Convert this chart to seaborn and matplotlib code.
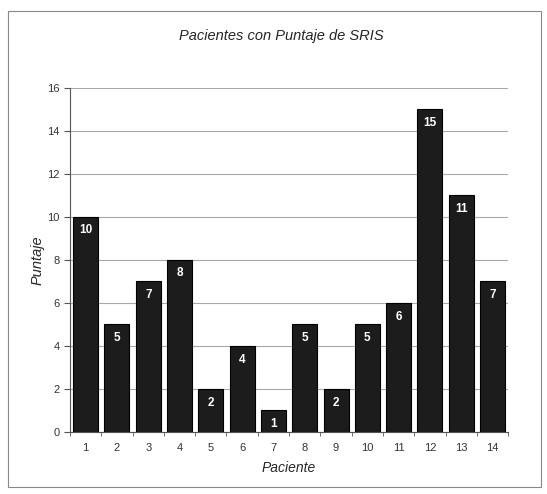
import matplotlib
matplotlib.use('Agg')
import matplotlib.pyplot as plt
import seaborn as sns
import numpy as np
from matplotlib.patches import Rectangle

pacientes = [str(i) for i in range(1, 15)]
puntaje = [10, 5, 7, 8, 2, 4, 1, 5, 2, 5, 6, 15, 11, 7]

sns.set_style('white')
plt.rcParams['font.family'] = ['Liberation Sans', 'DejaVu Sans']

fig = plt.figure(figsize=(5.47, 4.94), dpi=100)
ax = fig.add_axes([0.128, 0.1255, 0.801, 0.6965])

ax.yaxis.grid(True, color='#a8a8a8', linewidth=0.8)
ax.set_axisbelow(True)

sns.barplot(x=pacientes, y=puntaje, color='#1c1c1c', saturation=1,
            width=0.8, edgecolor='#000000', linewidth=0.8, ax=ax)

for i, v in enumerate(puntaje):
    ax.text(i, v - 0.35, str(v), ha='center', va='top', color='white',
            fontsize=8.5, fontweight='bold')

ax.set_ylim(0, 16)
ax.set_xlim(-0.5, 13.5)
ax.set_yticks(np.arange(0, 17, 2))
ax.set_xticks(np.arange(-0.5, 14, 1), minor=True)
ax.tick_params(axis='x', which='major', length=0, pad=8, labelsize=8, labelcolor='#333333')
ax.tick_params(axis='x', which='minor', length=3, direction='out', color='#555555', bottom=True)
ax.tick_params(axis='y', length=4, direction='out', color='#555555', left=True,
               labelsize=8, labelcolor='#333333')

for s in ['top', 'right']:
    ax.spines[s].set_visible(False)
for s in ['left', 'bottom']:
    ax.spines[s].set_color('#555555')
    ax.spines[s].set_linewidth(0.8)

ax.set_xlabel('Paciente', fontstyle='italic', fontsize=10, labelpad=6)
ax.set_ylabel('Puntaje', fontstyle='italic', fontsize=10.5, labelpad=2)
fig.text(0.515, 0.928, 'Pacientes con Puntaje de SRIS', ha='center', va='center',
         fontstyle='italic', fontsize=10.5)

fig.patches.append(Rectangle((0.014, 0.015), 0.975, 0.963, transform=fig.transFigure,
                             fill=False, edgecolor='#888888', linewidth=0.8))

fig.savefig('out.png', dpi=100)
